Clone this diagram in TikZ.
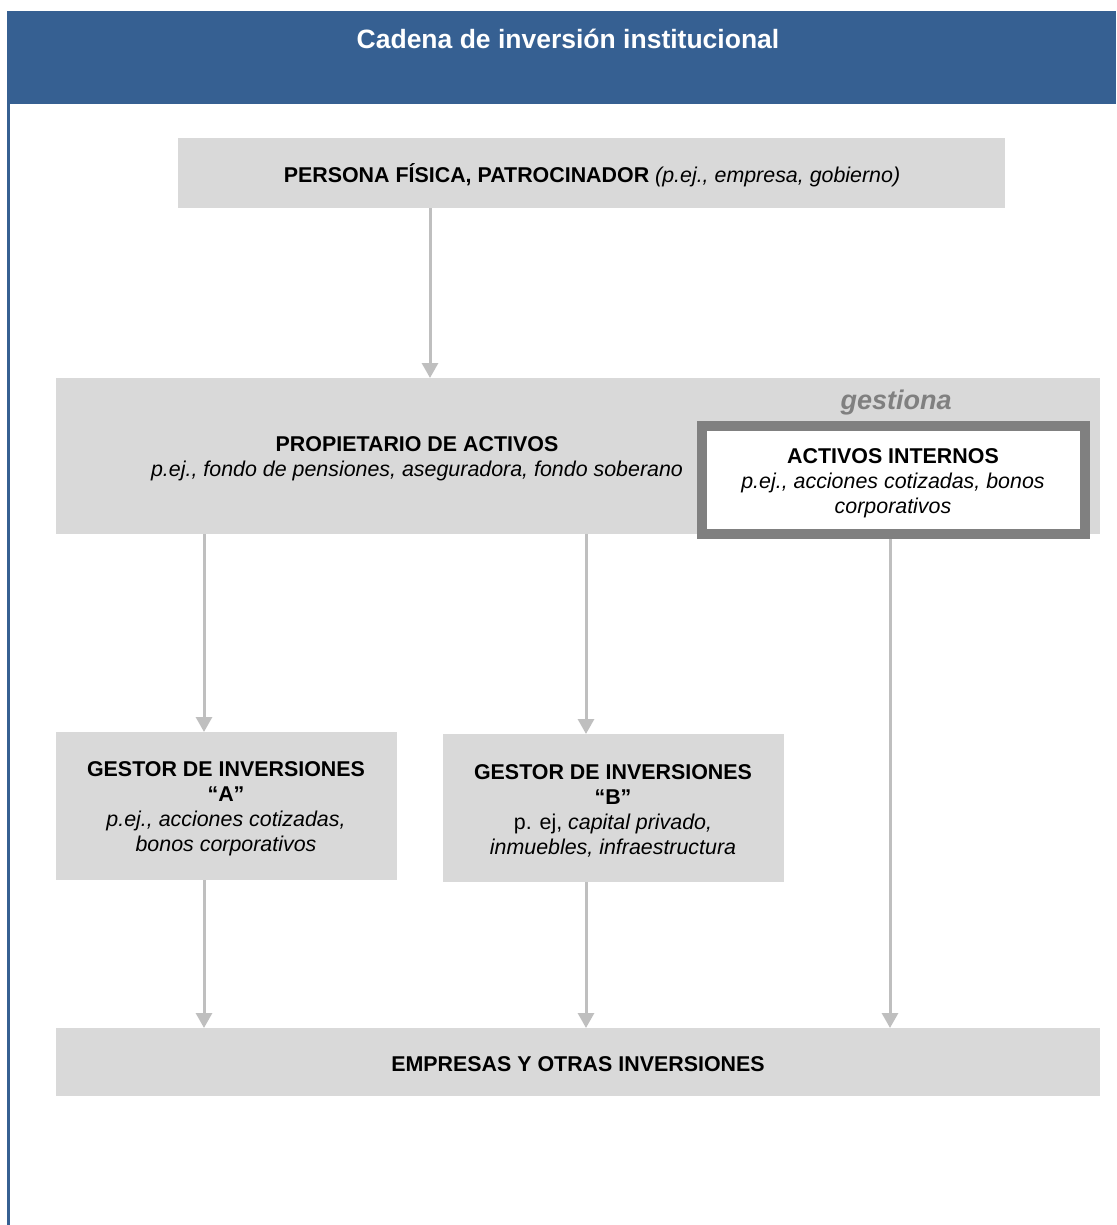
\documentclass[tikz,border=0pt]{standalone}
\usepackage{fontspec}
\setmainfont{Liberation Sans}
\usetikzlibrary{arrows.meta}
\definecolor{hdr}{RGB}{54,96,146}
\definecolor{boxg}{RGB}{217,217,217}
\definecolor{arr}{RGB}{191,191,191}
\definecolor{frm}{RGB}{128,128,128}
\begin{document}
\begin{tikzpicture}[x=1pt,y=-1pt,
  box/.style={fill=boxg, draw=none, anchor=north west, inner sep=0pt, outer sep=0pt},
  lbl/.style={align=center, font=\fontsize{21.4}{25}\selectfont, inner sep=0pt},
  flow/.style={draw=arr, line width=3pt, -{Triangle[width=16pt,length=15pt]}}]
\useasboundingbox (0,0) rectangle (1116,1225);
% header
\node[fill=hdr, anchor=north west, inner sep=0pt, outer sep=0pt, minimum width=1109pt, minimum height=93pt] (hdr) at (7,11) {};
\node[font=\bfseries\fontsize{26.5}{30}\selectfont, text=white, inner sep=0pt] (title) at (568,39) {Cadena de inversión institucional};
\coordinate (lt) at (8.5,104);
\coordinate (lb) at (8.5,1225);
\draw[hdr, line width=2.5pt] (lt) -- (lb);
% boxes
\node[box, minimum width=827pt, minimum height=70pt] (top) at (178,138) {};
\node[lbl] (toptxt) at (592,175.5) {\textbf{PERSONA FÍSICA, PATROCINADOR} \textit{(p.ej., empresa, gobierno)}};
\node[box, minimum width=1044pt, minimum height=156pt] (prop) at (56,378) {};
\node[lbl] (proptxt) at (417,459) {\textbf{PROPIETARIO DE ACTIVOS}\\\textit{p.ej., fondo de pensiones, aseguradora, fondo soberano}};
\node[font=\bfseries\itshape\fontsize{27}{30}\selectfont, text=frm, inner sep=0pt] (gest) at (896,402.5) {gestiona};
\node[draw=frm, fill=white, line width=10pt, minimum width=383pt, minimum height=108pt, inner sep=0pt] (ai) at (893.5,480) {};
\node[lbl] (aitxt) at (893,483) {\textbf{ACTIVOS INTERNOS}\\\textit{p.ej., acciones cotizadas, bonos}\\\textit{corporativos}};
\node[box, minimum width=341pt, minimum height=148pt] (ga) at (56,732) {};
\node[lbl] (gatxt) at (226,809) {\textbf{GESTOR DE INVERSIONES}\\\textbf{“A”}\\\textit{p.ej., acciones cotizadas,}\\\textit{bonos corporativos}};
\node[box, minimum width=341pt, minimum height=148pt] (gb) at (443,734) {};
\node[lbl] (gbtxt) at (613,811) {\textbf{GESTOR DE INVERSIONES}\\\textbf{“B”}\\p. ej, \textit{capital privado,}\\\textit{inmuebles, infraestructura}};
\node[box, minimum width=1044pt, minimum height=68pt] (emp) at (56,1028) {};
\node[lbl] (emptxt) at (578,1064.5) {\textbf{EMPRESAS Y OTRAS INVERSIONES}};
% arrows
\draw[flow] (430,0 |- top.south) -- (430,0 |- prop.north);
\draw[flow] (204,0 |- prop.south) -- (204,0 |- ga.north);
\draw[flow] (586,0 |- prop.south) -- (586,0 |- gb.north);
\draw[flow] (890,0 |- ai.south) -- (890,0 |- emp.north);
\draw[flow] (204,0 |- ga.south) -- (204,0 |- emp.north);
\draw[flow] (586,0 |- gb.south) -- (586,0 |- emp.north);
\end{tikzpicture}
\end{document}
